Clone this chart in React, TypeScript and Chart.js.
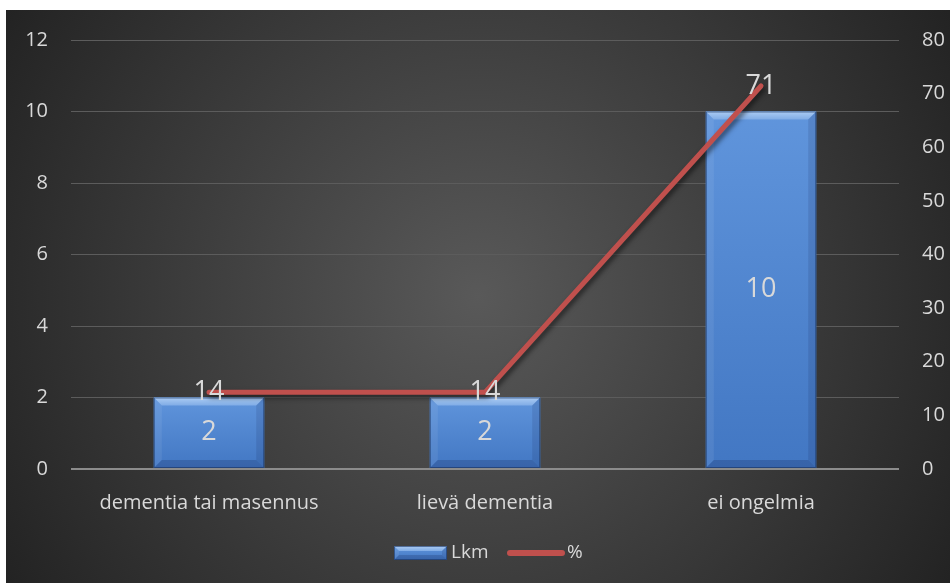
import React, { useEffect, useRef } from 'react';
import { Chart, registerables } from 'chart.js';

Chart.register(...registerables);

const categories = ['dementia tai masennus', 'lievä dementia', 'ei ongelmia'];
const countValues = [2, 2, 10];
const percentValues = [14.29, 14.29, 71.43];
const countTicks = [0, 2, 4, 6, 8, 10, 12];
const percentTicks = [0, 10, 20, 30, 40, 50, 60, 70, 80];
const seriesNames = ['Lkm', '%'];

const FONT = "'Open Sans', 'Noto Sans', sans-serif";
const TEXT = '#d9d9d9';
const BAR_BASE = '#4d83cd';
const LINE_COLOR = '#c0504d';

function bevelRect(ctx: CanvasRenderingContext2D, x0: number, y0: number, x1: number, y1: number, b: number) {
  const h = y1 - y0;
  const bb = Math.min(b, h / 2, (x1 - x0) / 2);
  const g = ctx.createLinearGradient(0, y0, 0, y1);
  g.addColorStop(0, '#6095dc');
  g.addColorStop(1, '#4277c3');
  ctx.fillStyle = g;
  ctx.fillRect(x0, y0, x1 - x0, h);
  // top bevel
  ctx.beginPath();
  ctx.moveTo(x0, y0); ctx.lineTo(x1, y0); ctx.lineTo(x1 - bb, y0 + bb); ctx.lineTo(x0 + bb, y0 + bb); ctx.closePath();
  const gt = ctx.createLinearGradient(0, y0, 0, y0 + bb);
  gt.addColorStop(0, '#acccf3');
  gt.addColorStop(1, '#80ace6');
  ctx.fillStyle = gt; ctx.fill();
  // left bevel
  ctx.beginPath();
  ctx.moveTo(x0, y0); ctx.lineTo(x0 + bb, y0 + bb); ctx.lineTo(x0 + bb, y1 - bb); ctx.lineTo(x0, y1); ctx.closePath();
  ctx.fillStyle = 'rgba(255,255,255,0.07)'; ctx.fill();
  // right bevel
  ctx.beginPath();
  ctx.moveTo(x1, y0); ctx.lineTo(x1 - bb, y0 + bb); ctx.lineTo(x1 - bb, y1 - bb); ctx.lineTo(x1, y1); ctx.closePath();
  ctx.fillStyle = 'rgba(0,0,40,0.10)'; ctx.fill();
  // bottom bevel
  ctx.beginPath();
  ctx.moveTo(x0, y1); ctx.lineTo(x1, y1); ctx.lineTo(x1 - bb, y1 - bb); ctx.lineTo(x0 + bb, y1 - bb); ctx.closePath();
  ctx.fillStyle = 'rgba(0,0,40,0.16)'; ctx.fill();
  ctx.strokeStyle = 'rgba(25,50,95,0.6)';
  ctx.lineWidth = 1;
  ctx.strokeRect(x0 + 0.5, y0 + 0.5, x1 - x0 - 1, h - 1);
}

const chartPlugin = {
  id: 'customLook',
  beforeDraw(chart: any) {
    const { ctx, width, height } = chart;
    ctx.save();
    ctx.fillStyle = '#ffffff';
    ctx.fillRect(0, 0, width, height);
    const g = ctx.createRadialGradient(478, 296, 0, 478, 296, 560);
    g.addColorStop(0, '#595959');
    g.addColorStop(1, '#222222');
    ctx.fillStyle = g;
    ctx.fillRect(6, 10, 944, 573);
    ctx.restore();
  },
  beforeDatasetDraw(chart: any, args: any) {
    if (args.index === 1) {
      const ctx = chart.ctx;
      ctx.save();
      ctx.shadowColor = 'rgba(0,0,0,0.55)';
      ctx.shadowBlur = 5;
      ctx.shadowOffsetX = 2;
      ctx.shadowOffsetY = 3;
    }
  },
  afterDatasetDraw(chart: any, args: any) {
    const ctx = chart.ctx;
    if (args.index === 1) {
      ctx.restore();
      return;
    }
    if (args.index === 0) {
      ctx.save();
      args.meta.data.forEach((el: any) => {
        const p = el.getProps(['x', 'y', 'base', 'width'], true);
        const x0 = p.x - p.width / 2;
        const x1 = p.x + p.width / 2;
        bevelRect(ctx, x0, Math.min(p.y, p.base), x1, Math.max(p.y, p.base), 8);
      });
      ctx.restore();
    }
  },
  afterDraw(chart: any) {
    const { ctx } = chart;
    ctx.save();
    ctx.fillStyle = TEXT;
    ctx.textAlign = 'center';
    ctx.textBaseline = 'middle';
    ctx.font = `27px ${FONT}`;
    const barMeta = chart.getDatasetMeta(0);
    barMeta.data.forEach((el: any, i: number) => {
      const p = el.getProps(['x', 'y', 'base'], true);
      ctx.fillText(String(countValues[i]), p.x, (p.y + p.base) / 2);
    });
    const lineMeta = chart.getDatasetMeta(1);
    lineMeta.data.forEach((el: any, i: number) => {
      const p = el.getProps(['x', 'y'], true);
      ctx.fillText(String(Math.round(percentValues[i])), p.x, p.y);
    });
    // legend
    const cy = 553;
    ctx.font = `19px ${FONT}`;
    ctx.textAlign = 'left';
    bevelRect(ctx, 394, cy - 7, 447, cy + 7, 5);
    ctx.fillStyle = TEXT;
    ctx.fillText(seriesNames[0], 451, cy);
    ctx.strokeStyle = LINE_COLOR;
    ctx.lineWidth = 6;
    ctx.lineCap = 'round';
    ctx.beginPath();
    ctx.moveTo(510, cy);
    ctx.lineTo(562, cy);
    ctx.stroke();
    ctx.fillText(seriesNames[1], 567, cy);
    ctx.restore();
  },
};

export default function App() {
  const ref = useRef<HTMLCanvasElement | null>(null);
  useEffect(() => {
    document.body.style.margin = '0';
    if (!ref.current) return;
    const chart = new Chart(ref.current, {
      type: 'bar',
      data: {
        labels: categories,
        datasets: [
          {
            type: 'bar',
            label: seriesNames[0],
            data: countValues,
            backgroundColor: BAR_BASE,
            yAxisID: 'y',
            order: 2,
            barPercentage: 0.4,
            categoryPercentage: 1,
          },
          {
            type: 'line',
            label: seriesNames[1],
            data: percentValues,
            borderColor: LINE_COLOR,
            borderWidth: 5,
            borderCapStyle: 'round',
            borderJoinStyle: 'round',
            pointRadius: 0,
            tension: 0,
            yAxisID: 'y1',
            order: 1,
          },
        ],
      } as any,
      options: {
        animation: false,
        responsive: false,
        maintainAspectRatio: false,
        layout: { padding: { top: 40, left: 0, right: 0, bottom: 0 } },
        plugins: { legend: { display: false }, tooltip: { enabled: false } },
        scales: {
          x: {
            grid: { display: false },
            border: { display: false },
            ticks: { color: TEXT, font: { family: FONT, size: 20 }, padding: 14, maxRotation: 0 },
            afterFit: (s: any) => { s.height = 116; },
          },
          y: {
            position: 'left',
            min: 0,
            max: 12,
            afterBuildTicks: (s: any) => { s.ticks = countTicks.map((v) => ({ value: v })); },
            grid: {
              drawTicks: false,
              color: (c: any) => (c.tick && c.tick.value === 0 ? '#8c8c8c' : '#5c5c5c'),
              lineWidth: (c: any) => (c.tick && c.tick.value === 0 ? 2 : 1),
            },
            border: { display: false },
            ticks: { color: TEXT, font: { family: FONT, size: 20 }, padding: 23 },
            afterFit: (s: any) => { s.width = 71; },
          },
          y1: {
            position: 'right',
            min: 0,
            max: 80,
            afterBuildTicks: (s: any) => { s.ticks = percentTicks.map((v) => ({ value: v })); },
            grid: { display: false, drawTicks: false },
            border: { display: false },
            ticks: { color: TEXT, font: { family: FONT, size: 20 }, padding: 23 },
            afterFit: (s: any) => { s.width = 51; },
          },
        },
      },
      plugins: [chartPlugin],
    } as any);
    return () => chart.destroy();
  }, []);
  return (
    <div style={{ width: 950, height: 585 }}>
      <canvas ref={ref} width={950} height={585} style={{ display: 'block', width: 950, height: 585 }} />
    </div>
  );
}
